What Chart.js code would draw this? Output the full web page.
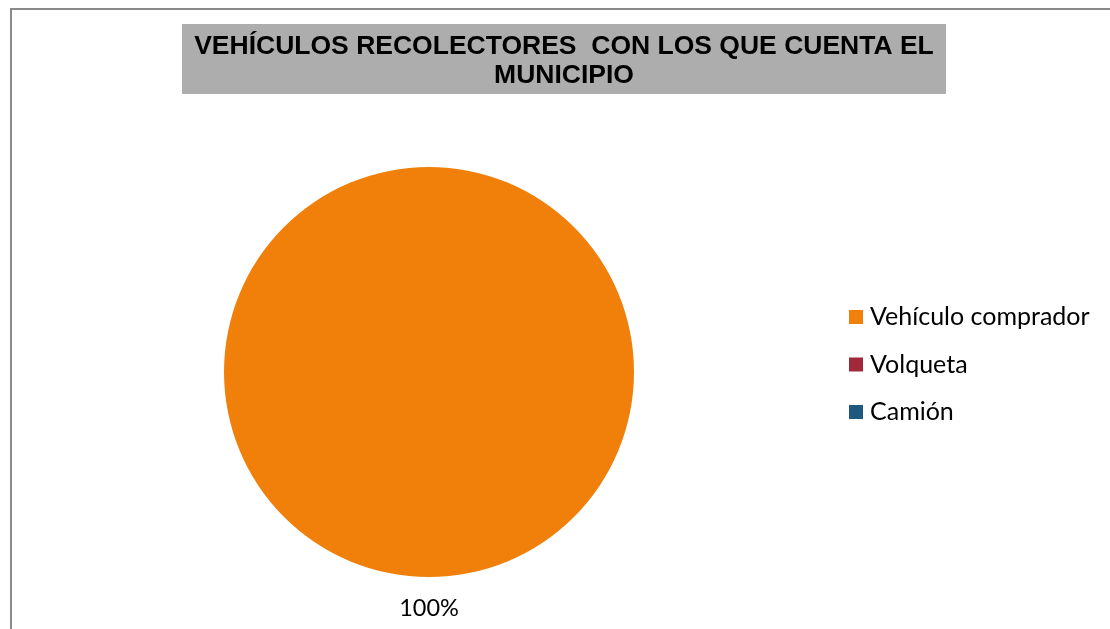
<!DOCTYPE html>
<html>
<head>
<meta charset="utf-8">
<script src="https://cdn.jsdelivr.net/npm/chart.js@4/dist/chart.umd.min.js"></script>
<style>
html,body{margin:0;padding:0;background:#fff;}
canvas{display:block;}
</style>
</head>
<body>
<canvas id="c" width="1110" height="629"></canvas>
<script>
const titleLines = ["VEHÍCULOS RECOLECTORES  CON LOS QUE CUENTA EL", "MUNICIPIO"];
const categories = ["Vehículo comprador", "Volqueta", "Camión"];
const values = [100, 0, 0];
const colors = ["#F0800A", "#A3283A", "#1F5A7E"];

const decor = {
  id: 'decor',
  beforeDraw(chart) {
    const ctx = chart.ctx;
    ctx.save();
    ctx.fillStyle = '#fff';
    ctx.fillRect(0, 0, chart.width, chart.height);
    // frame
    ctx.strokeStyle = '#8a8a8a';
    ctx.lineWidth = 2;
    ctx.beginPath();
    ctx.moveTo(11, chart.height);
    ctx.lineTo(11, 9);
    ctx.lineTo(chart.width, 9);
    ctx.stroke();
    // title box
    ctx.fillStyle = '#adadad';
    ctx.fillRect(182, 24, 764, 70);
    ctx.fillStyle = '#000';
    ctx.font = 'bold 26.5px "Liberation Sans", Arial, sans-serif';
    ctx.textAlign = 'center';
    ctx.textBaseline = 'middle';
    ctx.fillText(titleLines[0], 564, 47);
    ctx.fillText(titleLines[1], 564, 76);
    ctx.restore();
  },
  afterDraw(chart) {
    const ctx = chart.ctx;
    ctx.save();
    // data label
    const meta = chart.getDatasetMeta(0);
    const total = values.reduce((a, b) => a + b, 0);
    ctx.font = '23.5px Lato, "Open Sans", sans-serif';
    ctx.fillStyle = '#000';
    ctx.textAlign = 'center';
    ctx.textBaseline = 'middle';
    meta.data.forEach((arc, i) => {
      if (!values[i]) return;
      const p = arc.getProps(['x', 'y', 'startAngle', 'endAngle', 'outerRadius'], true);
      const mid = (p.startAngle + p.endAngle) / 2;
      const r = p.outerRadius + 31;
      ctx.fillText(Math.round(values[i] / total * 100) + '%', p.x + Math.cos(mid) * r, p.y + Math.sin(mid) * r);
    });
    // legend
    ctx.font = '25px Lato, "Open Sans", sans-serif';
    ctx.textAlign = 'left';
    categories.forEach((c, i) => {
      const y = 317 + i * 47.5;
      ctx.fillStyle = colors[i];
      ctx.fillRect(849, y - 7, 14, 14);
      ctx.fillStyle = '#000';
      ctx.fillText(c, 870, y);
    });
    ctx.restore();
  }
};

new Chart(document.getElementById('c'), {
  type: 'pie',
  data: {
    labels: categories,
    datasets: [{
      data: values,
      backgroundColor: colors,
      borderWidth: 0
    }]
  },
  options: {
    responsive: false,
    animation: false,
    layout: { padding: { top: 167, bottom: 52, left: 224, right: 476 } },
    plugins: {
      legend: { display: false },
      title: { display: false },
      tooltip: { enabled: false }
    }
  },
  plugins: [decor]
});
</script>
</body>
</html>
